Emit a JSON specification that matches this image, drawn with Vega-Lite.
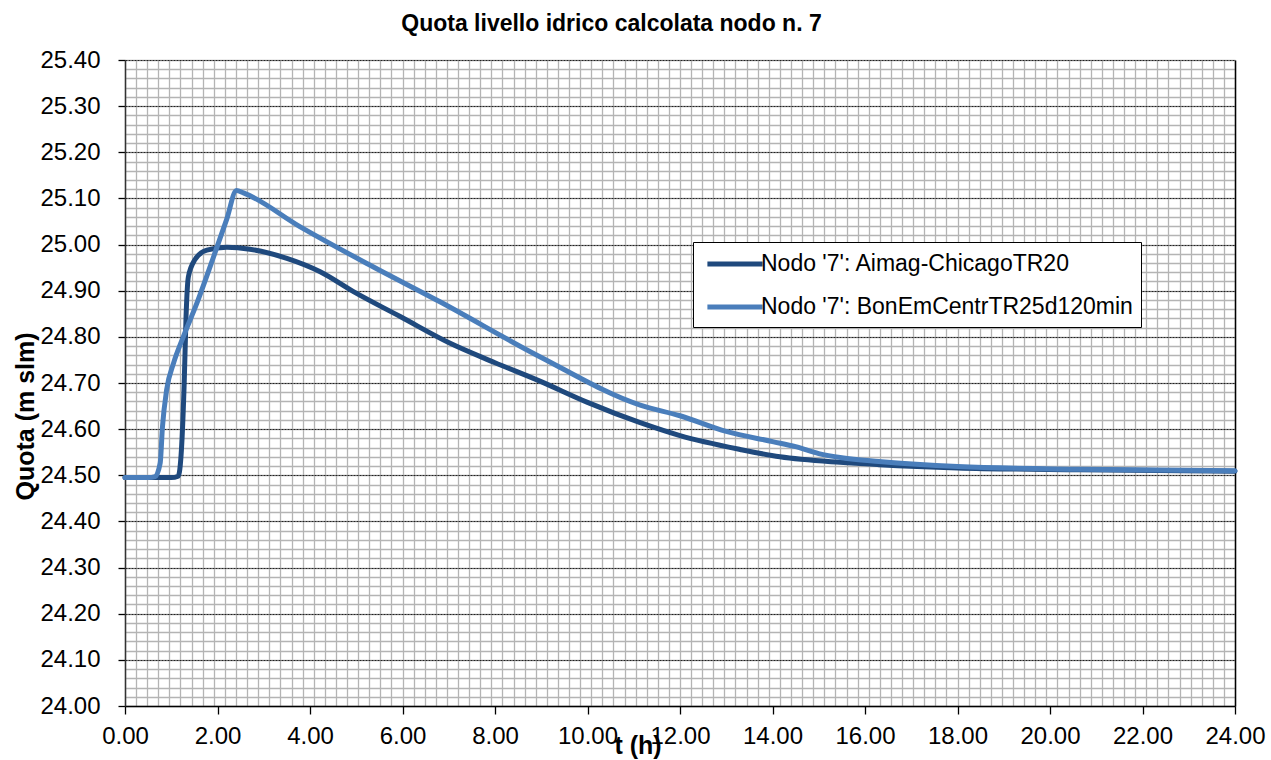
{
  "$schema": "https://vega.github.io/schema/vega-lite/v6.json",
  "width": 1110,
  "height": 646,
  "autosize": {"type": "none"},
  "padding": {"left": 125, "top": 60, "right": 36, "bottom": 54},
  "background": "white",
  "title": {
    "text": "Quota livello idrico calcolata nodo n. 7",
    "font": "Liberation Sans",
    "fontSize": 23,
    "fontWeight": "bold",
    "color": "black",
    "anchor": "middle",
    "frame": "group",
    "dx": -68.5,
    "offset": -6,
    "baseline": "alphabetic"
  },
  "config": {
    "font": "Liberation Sans",
    "view": {"stroke": null},
    "axis": {"labelColor": "black", "titleColor": "black", "labelFont": "Liberation Sans", "titleFont": "Liberation Sans", "labelFlush": false, "labelOverlap": false}
  },
  "data": {
    "values": [
      {"t": 0, "q": 24.495, "serie": "Nodo '7': Aimag-ChicagoTR20"},
      {"t": 0.5, "q": 24.495, "serie": "Nodo '7': Aimag-ChicagoTR20"},
      {"t": 1.0, "q": 24.495, "serie": "Nodo '7': Aimag-ChicagoTR20"},
      {"t": 1.15, "q": 24.498, "serie": "Nodo '7': Aimag-ChicagoTR20"},
      {"t": 1.22, "q": 24.555, "serie": "Nodo '7': Aimag-ChicagoTR20"},
      {"t": 1.28, "q": 24.70, "serie": "Nodo '7': Aimag-ChicagoTR20"},
      {"t": 1.32, "q": 24.844, "serie": "Nodo '7': Aimag-ChicagoTR20"},
      {"t": 1.37, "q": 24.93, "serie": "Nodo '7': Aimag-ChicagoTR20"},
      {"t": 1.51, "q": 24.967, "serie": "Nodo '7': Aimag-ChicagoTR20"},
      {"t": 1.77, "q": 24.988, "serie": "Nodo '7': Aimag-ChicagoTR20"},
      {"t": 2.20, "q": 24.994, "serie": "Nodo '7': Aimag-ChicagoTR20"},
      {"t": 2.70, "q": 24.990, "serie": "Nodo '7': Aimag-ChicagoTR20"},
      {"t": 3.50, "q": 24.970, "serie": "Nodo '7': Aimag-ChicagoTR20"},
      {"t": 4.22, "q": 24.941, "serie": "Nodo '7': Aimag-ChicagoTR20"},
      {"t": 4.94, "q": 24.898, "serie": "Nodo '7': Aimag-ChicagoTR20"},
      {"t": 5.95, "q": 24.844, "serie": "Nodo '7': Aimag-ChicagoTR20"},
      {"t": 7.03, "q": 24.786, "serie": "Nodo '7': Aimag-ChicagoTR20"},
      {"t": 8.0, "q": 24.744, "serie": "Nodo '7': Aimag-ChicagoTR20"},
      {"t": 8.97, "q": 24.704, "serie": "Nodo '7': Aimag-ChicagoTR20"},
      {"t": 10.0, "q": 24.658, "serie": "Nodo '7': Aimag-ChicagoTR20"},
      {"t": 11.14, "q": 24.614, "serie": "Nodo '7': Aimag-ChicagoTR20"},
      {"t": 12.0, "q": 24.586, "serie": "Nodo '7': Aimag-ChicagoTR20"},
      {"t": 13.3, "q": 24.556, "serie": "Nodo '7': Aimag-ChicagoTR20"},
      {"t": 14.16, "q": 24.540, "serie": "Nodo '7': Aimag-ChicagoTR20"},
      {"t": 15.46, "q": 24.528, "serie": "Nodo '7': Aimag-ChicagoTR20"},
      {"t": 16.3, "q": 24.523, "serie": "Nodo '7': Aimag-ChicagoTR20"},
      {"t": 18.0, "q": 24.516, "serie": "Nodo '7': Aimag-ChicagoTR20"},
      {"t": 20.65, "q": 24.512, "serie": "Nodo '7': Aimag-ChicagoTR20"},
      {"t": 24.0, "q": 24.509, "serie": "Nodo '7': Aimag-ChicagoTR20"},
      {"t": 0, "q": 24.495, "serie": "Nodo '7': BonEmCentrTR25d120min"},
      {"t": 0.5, "q": 24.495, "serie": "Nodo '7': BonEmCentrTR25d120min"},
      {"t": 0.65, "q": 24.497, "serie": "Nodo '7': BonEmCentrTR25d120min"},
      {"t": 0.76, "q": 24.526, "serie": "Nodo '7': BonEmCentrTR25d120min"},
      {"t": 0.81, "q": 24.605, "serie": "Nodo '7': BonEmCentrTR25d120min"},
      {"t": 0.90, "q": 24.685, "serie": "Nodo '7': BonEmCentrTR25d120min"},
      {"t": 1.05, "q": 24.743, "serie": "Nodo '7': BonEmCentrTR25d120min"},
      {"t": 1.26, "q": 24.80, "serie": "Nodo '7': BonEmCentrTR25d120min"},
      {"t": 1.55, "q": 24.872, "serie": "Nodo '7': BonEmCentrTR25d120min"},
      {"t": 1.91, "q": 24.972, "serie": "Nodo '7': BonEmCentrTR25d120min"},
      {"t": 2.20, "q": 25.055, "serie": "Nodo '7': BonEmCentrTR25d120min"},
      {"t": 2.41, "q": 25.117, "serie": "Nodo '7': BonEmCentrTR25d120min"},
      {"t": 2.56, "q": 25.112, "serie": "Nodo '7': BonEmCentrTR25d120min"},
      {"t": 3.78, "q": 25.039, "serie": "Nodo '7': BonEmCentrTR25d120min"},
      {"t": 5.23, "q": 24.959, "serie": "Nodo '7': BonEmCentrTR25d120min"},
      {"t": 6.81, "q": 24.876, "serie": "Nodo '7': BonEmCentrTR25d120min"},
      {"t": 8.97, "q": 24.757, "serie": "Nodo '7': BonEmCentrTR25d120min"},
      {"t": 11.14, "q": 24.652, "serie": "Nodo '7': BonEmCentrTR25d120min"},
      {"t": 12.0, "q": 24.629, "serie": "Nodo '7': BonEmCentrTR25d120min"},
      {"t": 13.0, "q": 24.595, "serie": "Nodo '7': BonEmCentrTR25d120min"},
      {"t": 14.0, "q": 24.573, "serie": "Nodo '7': BonEmCentrTR25d120min"},
      {"t": 14.5, "q": 24.562, "serie": "Nodo '7': BonEmCentrTR25d120min"},
      {"t": 15.0, "q": 24.547, "serie": "Nodo '7': BonEmCentrTR25d120min"},
      {"t": 15.5, "q": 24.538, "serie": "Nodo '7': BonEmCentrTR25d120min"},
      {"t": 16.3, "q": 24.530, "serie": "Nodo '7': BonEmCentrTR25d120min"},
      {"t": 18.0, "q": 24.519, "serie": "Nodo '7': BonEmCentrTR25d120min"},
      {"t": 20.65, "q": 24.513, "serie": "Nodo '7': BonEmCentrTR25d120min"},
      {"t": 24.0, "q": 24.510, "serie": "Nodo '7': BonEmCentrTR25d120min"}
    ]
  },
  "resolve": {"axis": {"x": "independent", "y": "independent"}},
  "layer": [
    {
      "mark": {"type": "line", "opacity": 0},
      "encoding": {
        "x": {"field": "t", "type": "quantitative", "scale": {"domain": [0, 24], "nice": false, "zero": false},
          "axis": {"orient": "bottom", "title": null, "labels": false, "ticks": false, "domain": false, "grid": true, "gridColor": "#b4b4b4", "gridWidth": 1.3,
            "values": [0,0.24,0.48,0.72,0.96,1.2,1.44,1.68,1.92,2.16,2.4,2.64,2.88,3.12,3.36,3.6,3.84,4.08,4.32,4.56,4.8,5.04,5.28,5.52,5.76,6,6.24,6.48,6.72,6.96,7.2,7.44,7.68,7.92,8.16,8.4,8.64,8.88,9.12,9.36,9.6,9.84,10.08,10.32,10.56,10.8,11.04,11.28,11.52,11.76,12,12.24,12.48,12.72,12.96,13.2,13.44,13.68,13.92,14.16,14.4,14.64,14.88,15.12,15.36,15.6,15.84,16.08,16.32,16.56,16.8,17.04,17.28,17.52,17.76,18,18.24,18.48,18.72,18.96,19.2,19.44,19.68,19.92,20.16,20.4,20.64,20.88,21.12,21.36,21.6,21.84,22.08,22.32,22.56,22.8,23.04,23.28,23.52,23.76,24]}},
        "y": {"field": "q", "type": "quantitative", "scale": {"domain": [24, 25.4], "nice": false, "zero": false},
          "axis": {"orient": "left", "title": null, "labels": false, "ticks": false, "domain": false, "grid": true, "gridColor": "#b4b4b4", "gridWidth": 1.3,
            "values": [24,24.02,24.04,24.06,24.08,24.1,24.12,24.14,24.16,24.18,24.2,24.22,24.24,24.26,24.28,24.3,24.32,24.34,24.36,24.38,24.4,24.42,24.44,24.46,24.48,24.5,24.52,24.54,24.56,24.58,24.6,24.62,24.64,24.66,24.68,24.7,24.72,24.74,24.76,24.78,24.8,24.82,24.84,24.86,24.88,24.9,24.92,24.94,24.96,24.98,25,25.02,25.04,25.06,25.08,25.1,25.12,25.14,25.16,25.18,25.2,25.22,25.24,25.26,25.28,25.3,25.32,25.34,25.36,25.38,25.4]}},
        "detail": {"field": "serie"}
      }
    },
    {
      "mark": {"type": "line", "opacity": 0},
      "encoding": {
        "x": {"field": "t", "type": "quantitative",
          "axis": {"orient": "bottom", "title": "t (h)", "titleFontSize": 25, "titleFontWeight": "bold", "titleX": 512.5, "titleY": 47, "titleAlign": "center", "titleBaseline": "alphabetic",
            "values": [0,2,4,6,8,10,12,14,16,18,20,22,24], "format": ".2f", "labelFontSize": 24, "labelPadding": 10,
            "grid": false, "ticks": true, "tickSize": 8, "tickColor": "black", "tickWidth": 1.3, "domain": true, "domainColor": "black", "domainWidth": 1.5}},
        "y": {"field": "q", "type": "quantitative",
          "axis": {"orient": "left", "title": "Quota (m slm)", "titleFontSize": 25, "titleFontWeight": "bold", "titleX": -92, "titleY": 356, "titleAngle": -90, "titleAlign": "center", "titleBaseline": "alphabetic",
            "values": [24,24.1,24.2,24.3,24.4,24.5,24.6,24.7,24.8,24.9,25,25.1,25.2,25.3,25.4], "format": ".2f", "labelFontSize": 24, "labelPadding": 18,
            "grid": true, "gridColor": "#222222", "gridDash": [2, 1], "gridWidth": 1, "ticks": true, "tickSize": 7, "tickColor": "black", "tickWidth": 1.3, "domain": true, "domainColor": "#333333", "domainWidth": 1.5}},
        "detail": {"field": "serie"}
      }
    },
    {
      "mark": {"type": "line", "strokeWidth": 5, "interpolate": "monotone", "strokeCap": "round", "strokeJoin": "round"},
      "encoding": {
        "x": {"field": "t", "type": "quantitative", "axis": null},
        "y": {"field": "q", "type": "quantitative",
          "axis": {"orient": "right", "title": null, "labels": false, "ticks": false, "grid": false, "domain": true, "domainColor": "black", "domainWidth": 1.5}},
        "color": {"field": "serie", "type": "nominal",
          "scale": {"domain": ["Nodo '7': Aimag-ChicagoTR20", "Nodo '7': BonEmCentrTR25d120min"], "range": ["#1F497D", "#4A7EBB"]},
          "legend": {"orient": "none", "legendX": 568, "legendY": 182, "title": null, "direction": "vertical",
            "symbolType": "M-2.4,0H2.4", "symbolSize": 529, "symbolStrokeWidth": 5, "symbolOffset": 20, "labelOffset": 12,
            "labelFontSize": 23, "labelFont": "Liberation Sans", "labelColor": "black", "labelLimit": 600,
            "padding": 8, "rowPadding": 17, "strokeColor": "black", "fillColor": "white"}}
      }
    }
  ]
}
